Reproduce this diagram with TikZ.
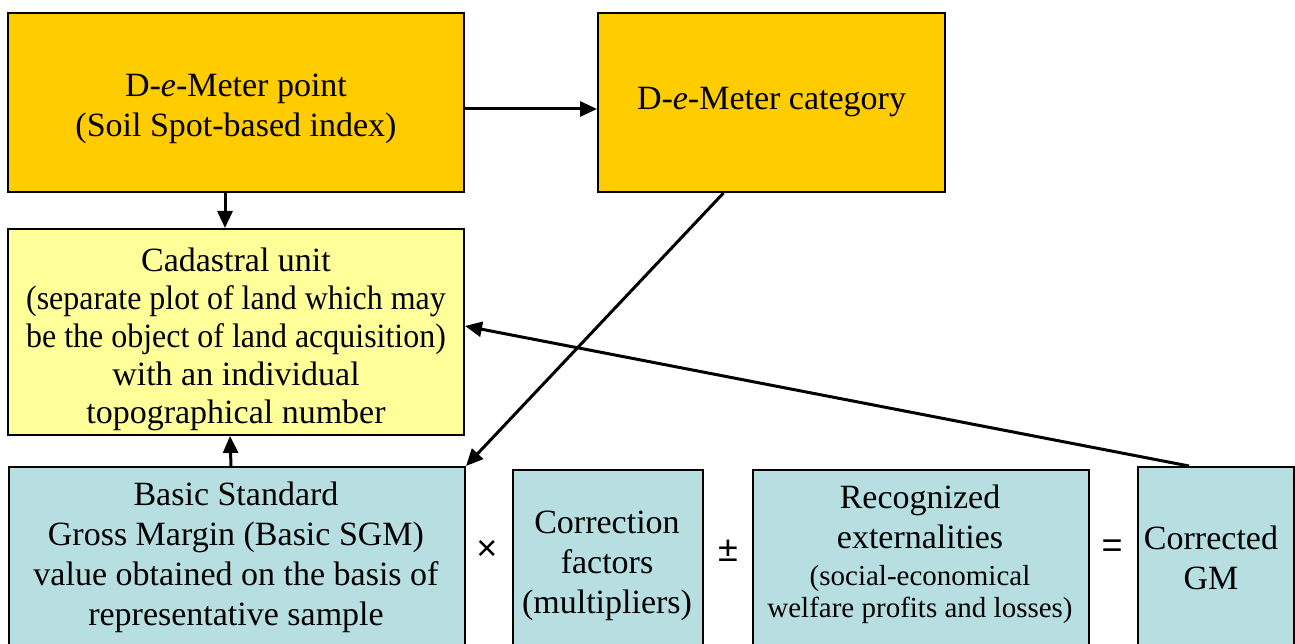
\documentclass[tikz,border=0pt]{standalone}
\usepackage{fontspec}
\setmainfont{Liberation Serif}
\newfontfamily\opfont{Liberation Sans}
\usetikzlibrary{positioning,arrows.meta}
\definecolor{dmorange}{HTML}{FFCC00}
\definecolor{dmyellow}{HTML}{FFFF99}
\definecolor{dmblue}{HTML}{B7DFE1}
\newcommand{\sgmsmall}{\fontsize{29}{32}\selectfont}
\newcommand{\toppad}[1]{\rule{0pt}{#1}}

\begin{document}
\begin{tikzpicture}[x = 1pt, y = -1pt,
box/.style = {draw = black, line width = 2pt, shape = rectangle, inner sep = 0pt, align = center, font = \fontsize{34}{40}\selectfont},
pointbox/.style = {box, fill = dmorange},
unitbox/.style = {box, fill = dmyellow, font = \fontsize{34}{38}\selectfont},
sgmbox/.style = {box, fill = dmblue, anchor = north west, minimum height = 240pt},
boxtext/.style = {align = center, font = \fontsize{34}{40}\selectfont},
op/.style = {font = \opfont\fontsize{36}{40}\selectfont},
link/.style = {line width = 3pt, -{Triangle[length = 17pt, width = 15pt]}}]
\clip[use as bounding box] (0,0) rectangle (1295,644);
\node[pointbox, minimum width = 456pt, minimum height = 179pt] (point) at (236,102.5) {\toppad{35pt}D-\textit{e}-Meter point\\(Soil Spot-based index)};
\node[pointbox, minimum width = 347pt, minimum height = 179pt] (category) at (771.5,102.5) {D-\textit{e}-Meter category};
\node[unitbox, minimum width = 456pt, minimum height = 206pt] (cadastral) at (236,332) {\toppad{38pt}Cadastral unit\\\scalebox{0.94}[1]{(separate plot of land which may}\\\scalebox{0.94}[1]{be the object of land acquisition)}\\with an individual\\topographical number};
% bottom row, cut off by the page edge
\node[sgmbox, minimum width = 456pt] (basic) at (8,466) {};
\node[sgmbox, minimum width = 190pt] (correction) at (512,469) {};
\node[sgmbox, minimum width = 336pt] (external) at (752,469) {};
\node[sgmbox, minimum width = 156pt] (corrected) at (1137,466) {};
\node[boxtext] (basictext) at (236,557) {Basic Standard\\Gross Margin (Basic SGM)\\value obtained on the basis of\\representative sample};
\node[boxtext] (correctiontext) at (607,566) {Correction\\factors\\(multipliers)};
\node[boxtext] (externaltext) at (920,554) {Recognized\\externalities\\[-3pt]{\sgmsmall (social-economical}\\[-8pt]{\sgmsmall welfare profits and losses)}};
\node[boxtext] (correctedtext) at (1211,558) {Corrected\\GM};
\node[op] (times) at (487,550) {×};
\node[op] (plusminus) at (728,551) {±};
\node[op] (equals) at (1112,549) {=};
\draw[link] ([yshift = -6.5pt]point.east) -- ([yshift = -6.5pt]category.west);
\draw[link] ([xshift = -11pt]point.south) -- ([xshift = -11pt]cadastral.north);
\draw[link] ([xshift = -6pt]basic.north) -- ([xshift = -6pt]cadastral.south);
\draw[link] ([xshift = -48pt]category.south) -- (basic.north east);
\draw[link] ([xshift = -27pt]corrected.north) -- ([yshift = 6pt]cadastral.east);
\end{tikzpicture}
\end{document}
